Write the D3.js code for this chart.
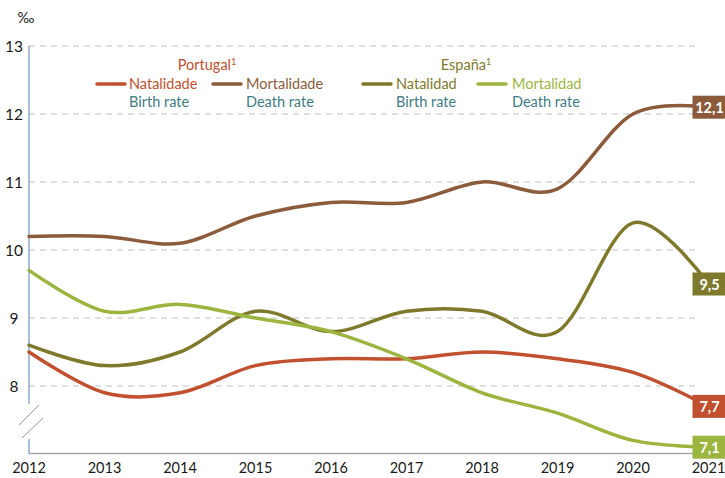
<!DOCTYPE html>
<html><head><meta charset="utf-8">
<script src="https://cdn.jsdelivr.net/npm/d3@7"></script>
<style>body{margin:0;background:#fff}svg{display:block;font-family:Lato,"Open Sans",sans-serif}</style>
</head><body><svg id="c" width="725" height="478"></svg>
<script>
const years = [2012,2013,2014,2015,2016,2017,2018,2019,2020,2021];
const ptBirth = [8.5,7.9,7.9,8.3,8.4,8.4,8.5,8.4,8.2,7.7];
const ptDeath = [10.2,10.2,10.1,10.5,10.7,10.7,11.0,10.9,12.0,12.1];
const esBirth = [8.6,8.3,8.5,9.1,8.8,9.1,9.1,8.8,10.4,9.5];
const esDeath = [9.7,9.1,9.2,9.0,8.8,8.4,7.9,7.6,7.2,7.1];
const yTicks = [8,9,10,11,12,13];
const endLabels = ["7,7","12,1","9,5","7,1"];

const series = [
  {v: ptBirth, c:"#c0502e"},
  {v: ptDeath, c:"#8c5b3b"},
  {v: esBirth, c:"#7f7a2b"},
  {v: esDeath, c:"#9cb53f"}
];

const svg = d3.select("#c");
const x = d3.scaleLinear().domain([2012,2021]).range([29,708.5]);
const y = d3.scaleLinear().domain([7,13]).range([454,46]);

// gridlines
svg.append("g").selectAll("line").data(yTicks).join("line")
  .attr("x1",29).attr("x2",695).attr("y1",d=>y(d)).attr("y2",d=>y(d))
  .attr("stroke","#bfbfbf").attr("stroke-width",1).attr("stroke-dasharray","6,5");

// y labels
svg.append("g").selectAll("text").data(yTicks).join("text")
  .attr("x",14).attr("y",d=>y(d)+5.5).attr("text-anchor","middle")
  .attr("font-size",15.5).attr("fill","#1a1a1a").text(d=>d);
svg.append("text").attr("x",26).attr("y",23).attr("text-anchor","middle")
  .attr("font-size",14.5).attr("fill","#1a1a1a").text("‰");

// x axis
svg.append("line").attr("x1",29).attr("x2",725).attr("y1",453.5).attr("y2",453.5)
  .attr("stroke","#a6a6a6").attr("stroke-width",1.5);
svg.append("g").selectAll("text").data(years).join("text")
  .attr("x",d=>x(d)).attr("y",473).attr("text-anchor","middle")
  .attr("font-size",14.5).attr("fill","#1a1a1a").text(d=>d);

// y axis with break
svg.append("line").attr("x1",29).attr("x2",29).attr("y1",46).attr("y2",404)
  .attr("stroke","#8eabc9").attr("stroke-width",1.5);
svg.append("line").attr("x1",29).attr("x2",29).attr("y1",439).attr("y2",454)
  .attr("stroke","#8eabc9").attr("stroke-width",1.5);
svg.append("line").attr("x1",19).attr("y1",425).attr("x2",39).attr("y2",405).attr("stroke","#999").attr("stroke-width",1);
svg.append("line").attr("x1",22).attr("y1",438).attr("x2",43).attr("y2",418).attr("stroke","#999").attr("stroke-width",1);

// lines
const line = d3.line().x((d,i)=>x(years[i])).y(d=>y(d)).curve(d3.curveCardinal.tension(0));
svg.append("g").selectAll("path").data(series).join("path")
  .attr("d",d=>line(d.v)).attr("fill","none").attr("stroke",d=>d.c).attr("stroke-width",3.5)
  .attr("stroke-linecap","round");

// end labels
const eg = svg.append("g").selectAll("g").data(series).join("g")
  .attr("transform",d=>`translate(${x(2021)},${y(d.v[d.v.length-1])})`);
eg.append("rect").attr("x",-16).attr("y",-11.5).attr("width",34).attr("height",23).attr("fill",d=>d.c);
eg.append("text").attr("x",1).attr("y",5.5).attr("text-anchor","middle").attr("font-size",14.5)
  .attr("font-weight","bold").attr("fill","#fff").text((d,i)=>endLabels[i]);

// legend
const teal = "#3f7c85";
svg.append("text").attr("x",207).attr("y",70).attr("text-anchor","middle").attr("font-size",14.5)
  .attr("fill","#c0502e").html("Portugal<tspan font-size='9' dy='-5'>1</tspan>");
svg.append("text").attr("x",466).attr("y",70).attr("text-anchor","middle").attr("font-size",14.5)
  .attr("fill","#7f7a2b").html("España<tspan font-size='9' dy='-5'>1</tspan>");
const leg = [
  {x0:97, tx:129, t:"Natalidade", s:"Birth rate", c:"#c0502e"},
  {x0:213, tx:246, t:"Mortalidade", s:"Death rate", c:"#8c5b3b"},
  {x0:363, tx:396, t:"Natalidad", s:"Birth rate", c:"#7f7a2b"},
  {x0:478, tx:512, t:"Mortalidad", s:"Death rate", c:"#9cb53f"}
];
const lg = svg.append("g").selectAll("g").data(leg).join("g");
lg.append("line").attr("x1",d=>d.x0).attr("x2",d=>d.x0+28).attr("y1",84).attr("y2",84)
  .attr("stroke",d=>d.c).attr("stroke-width",3.5).attr("stroke-linecap","round");
lg.append("text").attr("x",d=>d.tx).attr("y",89).attr("font-size",14.5).attr("fill",d=>d.c).text(d=>d.t);
lg.append("text").attr("x",d=>d.tx).attr("y",107).attr("font-size",14.5).attr("fill",teal).text(d=>d.s);
</script></body></html>
